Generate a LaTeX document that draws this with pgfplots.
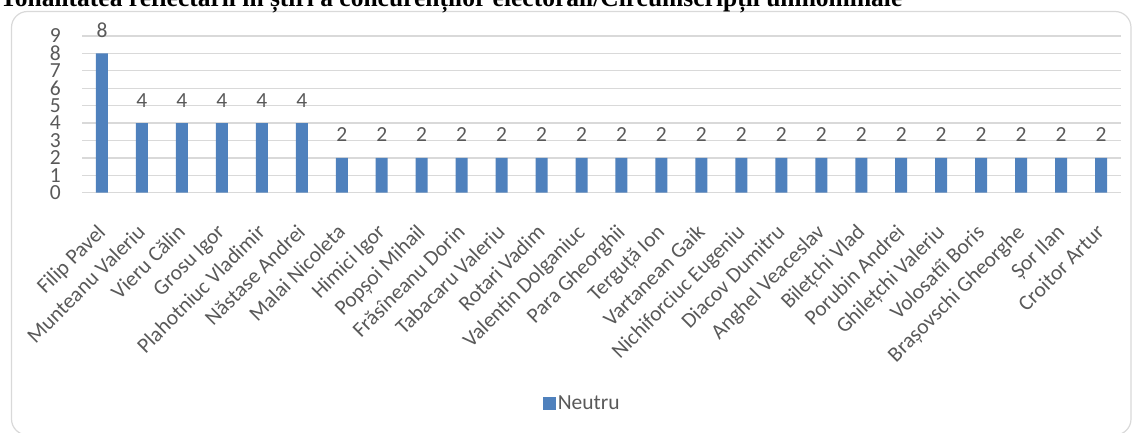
\documentclass[border=0pt]{standalone}
\usepackage{pgfplots}
\pgfplotsset{compat=1.18}
\usepackage{fontspec}
\setmainfont{Carlito}
\newfontfamily\titlefont{Liberation Serif}
\definecolor{bblue}{HTML}{4F81BD}
\definecolor{tgray}{HTML}{595959}
\definecolor{ggray}{HTML}{D9D9D9}
\begin{document}
\begin{tikzpicture}[x=1pt,y=1pt]
\draw[ggray, line width=1.2pt, rounded corners=16pt] (11.5,420.5) rectangle (1131,-3);
\node[anchor=base west, inner sep=0pt, font=\titlefont\bfseries\fontsize{25.5}{28}\selectfont] at (0,425) {Tonalitatea reflectării în știri a concurenților electorali/Circumscripții uninominale};
\begin{axis}[
  at={(82pt,239.3pt)}, anchor=south west,
  scale only axis, width=1039pt, height=156.7pt,
  xmin=-0.5, xmax=25.5, ymin=0, ymax=9,
  enlarge x limits=false, clip=false,
  ybar, bar width=12pt,
  axis line style={draw=none},
  ytick={0,...,9}, ymajorgrids,
  grid style={ggray, line width=1.3pt},
  major tick length=0pt,
  xtick={0,...,25},
  xticklabels={Filip Pavel, Munteanu Valeriu, Vieru Călin, Grosu Igor, Plahotniuc Vladimir, Năstase Andrei, Malai Nicoleta, Himici Igor, Popșoi Mihail, Frăsîneanu Dorin, Tabacaru Valeriu, Rotari Vadim, Valentin Dolganiuc, Para Gheorghii, Terguță Ion, Vartanean Gaik, Nichiforciuc Eugeniu, Diacov Dumitru, Anghel Veaceslav, Bilețchi Vlad, Porubin Andrei, Ghilețchi Valeriu, Volosatîi Boris, Brașovschi Gheorghe, Șor Ilan, Croitor Artur},
  tick label style={font=\fontsize{21.5}{26}\selectfont, text=tgray},
  /pgf/number format/assume math mode=true,
  yticklabel style={anchor=east, inner sep=0pt, xshift=-21pt},
  xticklabel style={xshift=-6pt, yshift=-30pt, rotate=45, anchor=north east, inner sep=0pt},
  nodes near coords,
  nodes near coords style={font=\fontsize{21.5}{26}\selectfont, text=tgray, anchor=base, inner sep=0pt, yshift=16pt},
  legend entries={Neutru},
  legend style={at={(0.4817,-1.345)}, anchor=center, draw=none, fill=none, font=\fontsize{21.5}{26}\selectfont, text=tgray},
  legend image code/.code={\fill[bblue] (0pt,-6.5pt) rectangle (12.5pt,6.5pt);},
]
\addplot[fill=bblue, draw=none] coordinates {(0,8) (1,4) (2,4) (3,4) (4,4) (5,4) (6,2) (7,2) (8,2) (9,2) (10,2) (11,2) (12,2) (13,2) (14,2) (15,2) (16,2) (17,2) (18,2) (19,2) (20,2) (21,2) (22,2) (23,2) (24,2) (25,2)};
\end{axis}
\pgfresetboundingbox
\path[use as bounding box] (0,0) rectangle (1135,432);
\end{tikzpicture}
\end{document}
